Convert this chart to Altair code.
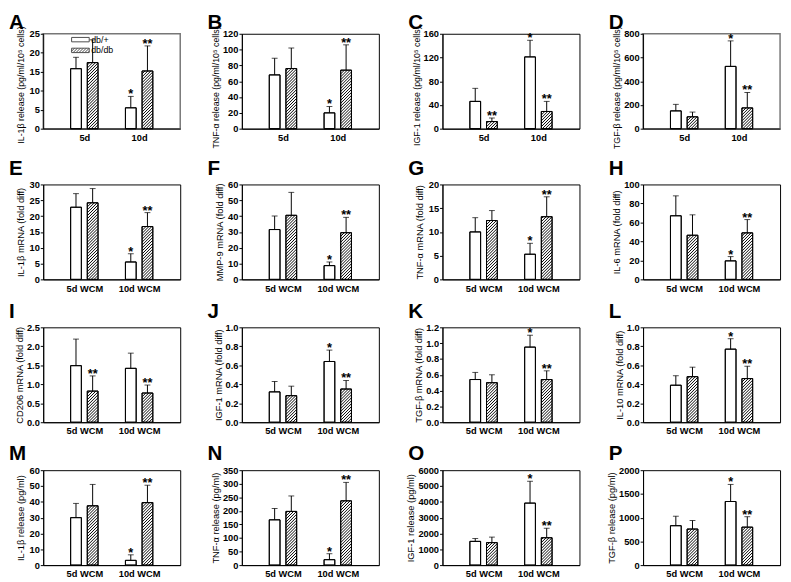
import altair as alt
import pandas as pd

FONT = "Liberation Sans"

letters = ["A", "B", "C", "D", "E", "F", "G", "H", "I", "J", "K", "L", "M", "N", "O", "P"]
y_titles = [
    "IL-1β release (pg/ml/10⁵ cells)",
    "TNF-α release (pg/ml/10⁵ cells)",
    "IGF-1 release (pg/ml/10⁵ cells)",
    "TGF-β release (pg/ml/10⁵ cells)",
    "IL-1β mRNA (fold diff)",
    "MMP-9 mRNA (fold diff)",
    "TNF-α mRNA (fold diff)",
    "IL-6 mRNA (fold diff)",
    "CD206 mRNA (fold diff)",
    "IGF-1 mRNA (fold diff)",
    "TGF-β mRNA (fold diff)",
    "IL-10 mRNA (fold diff)",
    "IL-1β release (pg/ml)",
    "TNF-α release (pg/ml)",
    "IGF-1 release (pg/ml)",
    "TGF-β release (pg/ml)",
]
y_ticks = [
    [0, 5, 10, 15, 20, 25],
    [0, 20, 40, 60, 80, 100, 120],
    [0, 40, 80, 120, 160],
    [0, 200, 400, 600, 800],
    [0, 5, 10, 15, 20, 25, 30],
    [0, 10, 20, 30, 40, 50, 60],
    [0, 5, 10, 15, 20],
    [0, 20, 40, 60, 80, 100],
    [0.0, 0.5, 1.0, 1.5, 2.0, 2.5],
    [0.0, 0.2, 0.4, 0.6, 0.8, 1.0],
    [0.0, 0.2, 0.4, 0.6, 0.8, 1.0, 1.2],
    [0.0, 0.2, 0.4, 0.6, 0.8, 1.0],
    [0, 10, 20, 30, 40, 50, 60],
    [0, 50, 100, 150, 200, 250, 300, 350],
    [0, 1000, 2000, 3000, 4000, 5000, 6000],
    [0, 500, 1000, 1500, 2000],
]
y_formats = ["d"] * 8 + [".1f"] * 4 + ["d"] * 4
days_short = ["5d", "10d"]
days_wcm = ["5d WCM", "10d WCM"]
groups = ["db/+", "db/db"]

# values per panel A..P (mean and upper error)
plus_5d_mean = [15.8, 68, 46, 150, 22.8, 31.5, 10.0, 67, 1.49, 0.32, 0.54, 0.39, 30, 167, 1500, 830]
plus_5d_err = [3.0, 21, 22, 55, 4.3, 8.5, 3.0, 21, 0.70, 0.11, 0.09, 0.10, 9, 42, 180, 200]
dbdb_5d_mean = [17.4, 76, 12, 100, 24.2, 40.5, 12.4, 46.5, 0.82, 0.28, 0.50, 0.48, 37.5, 198, 1420, 760]
dbdb_5d_err = [6.0, 26, 6, 40, 4.5, 14.5, 2.1, 21.5, 0.40, 0.10, 0.10, 0.10, 13.5, 57, 350, 180]
plus_10d_mean = [5.5, 20, 121, 525, 5.5, 8.7, 5.3, 19.5, 1.42, 0.64, 0.95, 0.77, 3, 20, 3920, 1340]
plus_10d_err = [3.0, 8, 28, 215, 2.6, 2.3, 2.3, 4.5, 0.40, 0.12, 0.15, 0.11, 3.5, 22, 1380, 360]
dbdb_10d_mean = [15.2, 74, 29, 175, 16.7, 29.5, 13.2, 49, 0.77, 0.35, 0.54, 0.46, 39.5, 237, 1730, 800]
dbdb_10d_err = [6.6, 32, 17, 130, 4.4, 9.7, 4.2, 14, 0.21, 0.09, 0.11, 0.13, 11, 68, 600, 220]

plus_5d_sig = [""] * 16
dbdb_5d_sig = ["", "", "**", "", "", "", "", "", "**", "", "", "", "", "", "", ""]
plus_10d_sig = ["*"] * 8 + [""] + ["*"] * 7
dbdb_10d_sig = ["**"] * 16

# ---- layout / style ----
W, H = 140, 97
X_DOM = [0.25, 2.75]
SX = W / (X_DOM[1] - X_DOM[0])
BAR_OFF = 0.152
BAR_HALF = 0.098
HATCH_STEP = 3.0


def legend_paths():
    white = "M-2,-0.5H2V0.5H-2Z"
    hatch = "M-2,-0.5H2V0.5H-2Z"
    a = -3.0
    while a < 2.0:
        xs = max(a, -2.0)
        xe = min(a + 1.0, 2.0)
        if xe > xs:
            ys = 0.5 - (xs - a)
            ye = 0.5 - (xe - a)
            hatch += f" M{xs:.3f},{ys:.3f}L{xe:.3f},{ye:.3f}"
        a += 0.667
    return white, hatch


def panel(i):
    ticks = y_ticks[i]
    ymax = ticks[-1]
    sy = H / ymax
    cats = days_short if i < 4 else days_wcm
    series = [
        (0, 0, plus_5d_mean, plus_5d_err, plus_5d_sig),
        (0, 1, dbdb_5d_mean, dbdb_5d_err, dbdb_5d_sig),
        (1, 0, plus_10d_mean, plus_10d_err, plus_10d_sig),
        (1, 1, dbdb_10d_mean, dbdb_10d_err, dbdb_10d_sig),
    ]
    recs = []
    for d, g, mean, err, sig in series:
        c = d + 1 + (BAR_OFF if g else -BAR_OFF)
        recs.append(dict(day=cats[d], group=groups[g], xc=c, x0=c - BAR_HALF, x1=c + BAR_HALF,
                         mean=mean[i], top=mean[i] + err[i], sig=sig[i], zero=0.0))
    df = pd.DataFrame(recs)

    hatch = []
    for r in recs:
        if r["group"] != groups[1]:
            continue
        bw = (r["x1"] - r["x0"]) * SX
        h = r["mean"] * sy
        c = -bw + 1.0
        while c < h:
            xa = max(0.0, -c)
            xb = min(bw, h - c)
            if xb > xa:
                hatch.append(dict(hx=r["x0"] + xa / SX, hx2=r["x0"] + xb / SX,
                                  hy=(xa + c) / sy, hy2=(xb + c) / sy))
            c += HATCH_STEP
    hdf = pd.DataFrame(hatch)

    xscale = alt.Scale(domain=X_DOM, nice=False, zero=False)
    yscale = alt.Scale(domain=[0, ymax], nice=False, zero=True)
    label_expr = f"datum.value == 1 ? '{cats[0]}' : (datum.value == 2 ? '{cats[1]}' : '')"

    yaxis_kw = dict(values=ticks, tickCount=20, format=y_formats[i], title=y_titles[i])
    if i < 4:
        yaxis_kw["titleAnchor"] = "end"
        yaxis_kw["titleY"] = -8
        yaxis_kw["titleFontSize"] = 9
        letter_offset = -7
    else:
        yaxis_kw["titleFontSize"] = 9.5
        letter_offset = 1

    base = alt.Chart(df)
    bars = base.mark_rect(fill="white", stroke="black", strokeWidth=1).encode(
        x=alt.X("x0:Q", scale=xscale,
                axis=alt.Axis(values=[1, 2], tickCount=5, labelExpr=label_expr, title=None)),
        x2="x1:Q",
        y=alt.Y("mean:Q", scale=yscale, axis=alt.Axis(**yaxis_kw)),
        y2="zero:Q",
    )
    hatch_layer = alt.Chart(hdf).mark_rule(color="black", strokeWidth=1).encode(
        x=alt.X("hx:Q", scale=xscale), x2="hx2:Q",
        y=alt.Y("hy:Q", scale=yscale), y2="hy2:Q",
    )
    outline = base.mark_rect(fillOpacity=0, stroke="black", strokeWidth=1).encode(
        x=alt.X("x0:Q", scale=xscale), x2="x1:Q",
        y=alt.Y("mean:Q", scale=yscale), y2="zero:Q",
    )
    err_line = base.mark_rule(color="black", strokeWidth=1).encode(
        x=alt.X("xc:Q", scale=xscale),
        y=alt.Y("mean:Q", scale=yscale), y2="top:Q",
    )
    cap = base.mark_tick(color="black", orient="horizontal", size=6, thickness=1).encode(
        x=alt.X("xc:Q", scale=xscale),
        y=alt.Y("top:Q", scale=yscale),
    )
    stars = base.mark_text(font=FONT, fontSize=13, fontWeight="bold", baseline="alphabetic",
                           dy=2, color="black").encode(
        x=alt.X("xc:Q", scale=xscale),
        y=alt.Y("top:Q", scale=yscale),
        text="sig:N",
    )
    layers = [bars, hatch_layer, outline, err_line, cap, stars]

    if i == 0:
        white_path, hatch_path = legend_paths()
        leg = alt.Chart(pd.DataFrame({"group": groups})).transform_filter("false").mark_point(
            filled=False, color="black", strokeWidth=1
        ).encode(
            shape=alt.Shape("group:N",
                            scale=alt.Scale(domain=groups, range=[white_path, hatch_path]),
                            legend=alt.Legend(title=None, orient="none", legendX=33, legendY=1,
                                              symbolSize=81, symbolStrokeWidth=1,
                                              symbolStrokeColor="black",
                                              labelFont=FONT, labelFontSize=9,
                                              labelOffset=6, rowPadding=1, padding=0)),
        )
        layers.append(leg)

    ch = alt.layer(*layers).properties(
        width=W, height=H,
        title=alt.TitleParams(letters[i], anchor="start", frame="group", dx=-35,
                              fontSize=21, fontWeight="bold", font=FONT, offset=letter_offset,
                              color="black"),
    )
    if i in (0, 3):
        ch = ch.properties(view=alt.ViewBackground(stroke="#777777", strokeWidth=1.5))
    return ch


panels = [panel(i) for i in range(16)]

chart = alt.concat(*panels, columns=4, spacing={"row": 7, "column": 26}).properties(
    padding={"left": 0, "top": -3, "right": 2, "bottom": 0}
).configure(font=FONT).configure_view(
    stroke="black", strokeWidth=1
).configure_axis(
    grid=False, domainColor="black", tickColor="black", labelColor="black",
    titleColor="black", labelFont=FONT, titleFont=FONT, labelFontWeight="bold",
    labelFontSize=9.5, titleFontWeight="normal", domainWidth=1, tickWidth=1,
    labelOverlap=False, labelBound=False, labelFlush=False
).configure_axisY(
    ticks=True, tickSize=3, labelPadding=1, titlePadding=2, minExtent=16
).configure_axisX(
    ticks=False, labelPadding=4, labelFontSize=9.5
)

chart.save("out.html", embed_options={"renderer": "svg", "actions": False})
